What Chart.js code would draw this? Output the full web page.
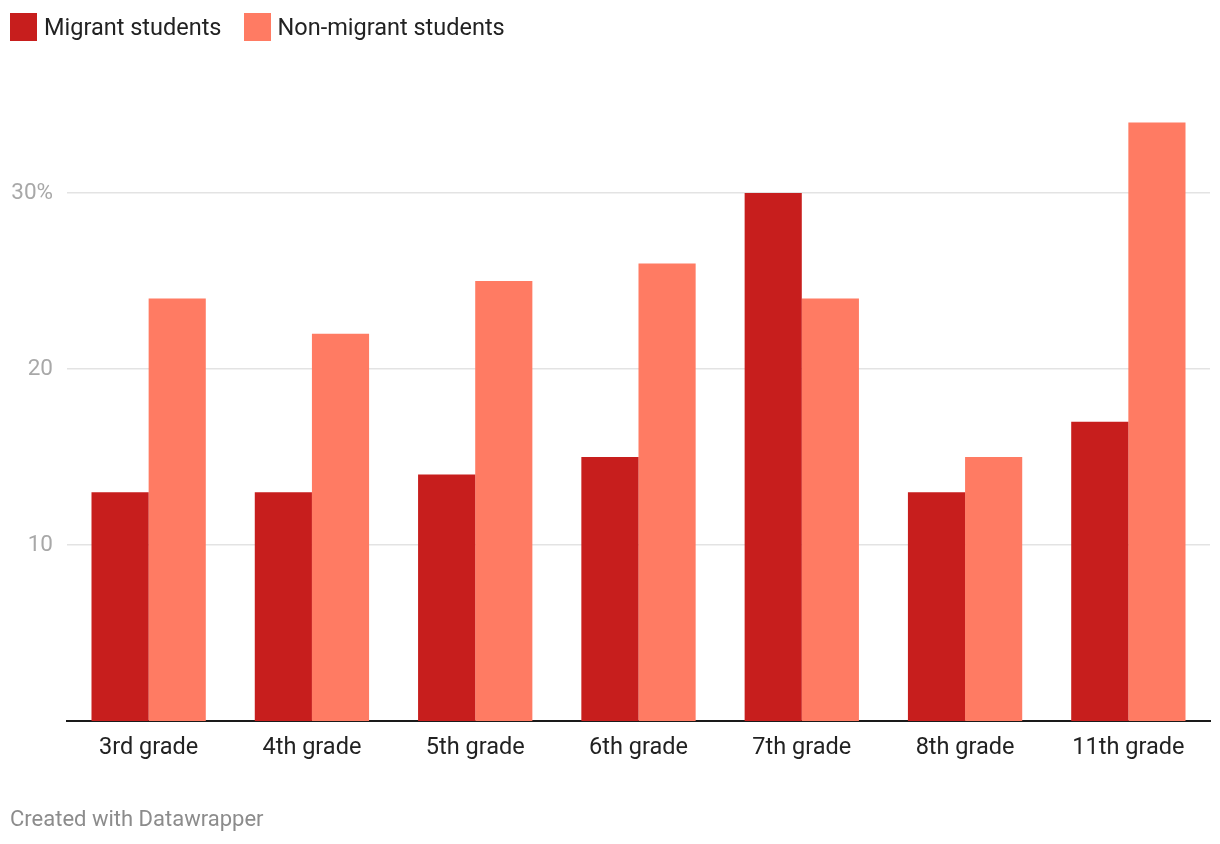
<!DOCTYPE html>
<html>
<head>
<meta charset="utf-8">
<script src="https://cdn.jsdelivr.net/npm/chart.js@4/dist/chart.umd.min.js"></script>
<style>
  body { margin: 0; background: #fff; font-family: Roboto, sans-serif; }
  #wrap { position: relative; width: 1220px; height: 844px; }
  #chart { position: absolute; left: 0; top: 0; }
  .legend { position: absolute; left: 10px; top: 13px; display: flex; font-size: 23.5px; color: #222; }
  .legend span { display: flex; align-items: center; margin-right: 22px; }
  .legend i { display: inline-block; width: 27px; height: 28px; margin-right: 7px; }
  .footer { position: absolute; left: 10px; top: 806px; font-size: 22px; color: #8c8c8c; }
</style>
</head>
<body>
<div id="wrap">
  <canvas id="chart" width="1220" height="844"></canvas>
  <div class="legend">
    <span><i style="background:#c71e1d"></i>Migrant students</span>
    <span><i style="background:#ff7b63"></i>Non-migrant students</span>
  </div>
  <div class="footer">Created with Datawrapper</div>
</div>
<script>
const grades = ["3rd grade", "4th grade", "5th grade", "6th grade", "7th grade", "8th grade", "11th grade"];
const migrant = [13, 13, 14, 15, 30, 13, 17];
const nonMigrant = [24, 22, 25, 26, 24, 15, 34];
const yTicks = [10, 20, 30];

const ctx = document.getElementById('chart').getContext('2d');
new Chart(ctx, {
  type: 'bar',
  data: {
    labels: grades,
    datasets: [
      { label: 'Migrant students', data: migrant, backgroundColor: '#c71e1d' },
      { label: 'Non-migrant students', data: nonMigrant, backgroundColor: '#ff7b63' }
    ]
  },
  options: {
    responsive: false,
    animation: false,
    layout: { padding: { top: 105, right: 10, bottom: 83, left: 0 } },
    plugins: { legend: { display: false }, tooltip: { enabled: false } },
    datasets: { bar: { categoryPercentage: 0.7, barPercentage: 1.0 } },
    scales: {
      x: {
        grid: { display: false },
        border: { color: '#1a1a1a', width: 2 },
        ticks: { color: '#222', font: { family: 'Roboto', size: 23.5 }, padding: 5 },
        afterFit: s => { s.height = 40; }
      },
      y: {
        min: 0,
        max: 35,
        afterBuildTicks: s => { s.ticks = yTicks.map(v => ({ value: v })); },
        afterFit: s => { s.width = 67; },
        border: { display: false },
        grid: { color: '#e3e3e3', lineWidth: 1.5, drawTicks: false },
        ticks: {
          color: '#a8a8a8',
          padding: 14,
          font: { family: 'Roboto', size: 22.5 },
          callback: v => v === 30 ? v + '%' : v
        }
      }
    }
  }
});
</script>
</body>
</html>
